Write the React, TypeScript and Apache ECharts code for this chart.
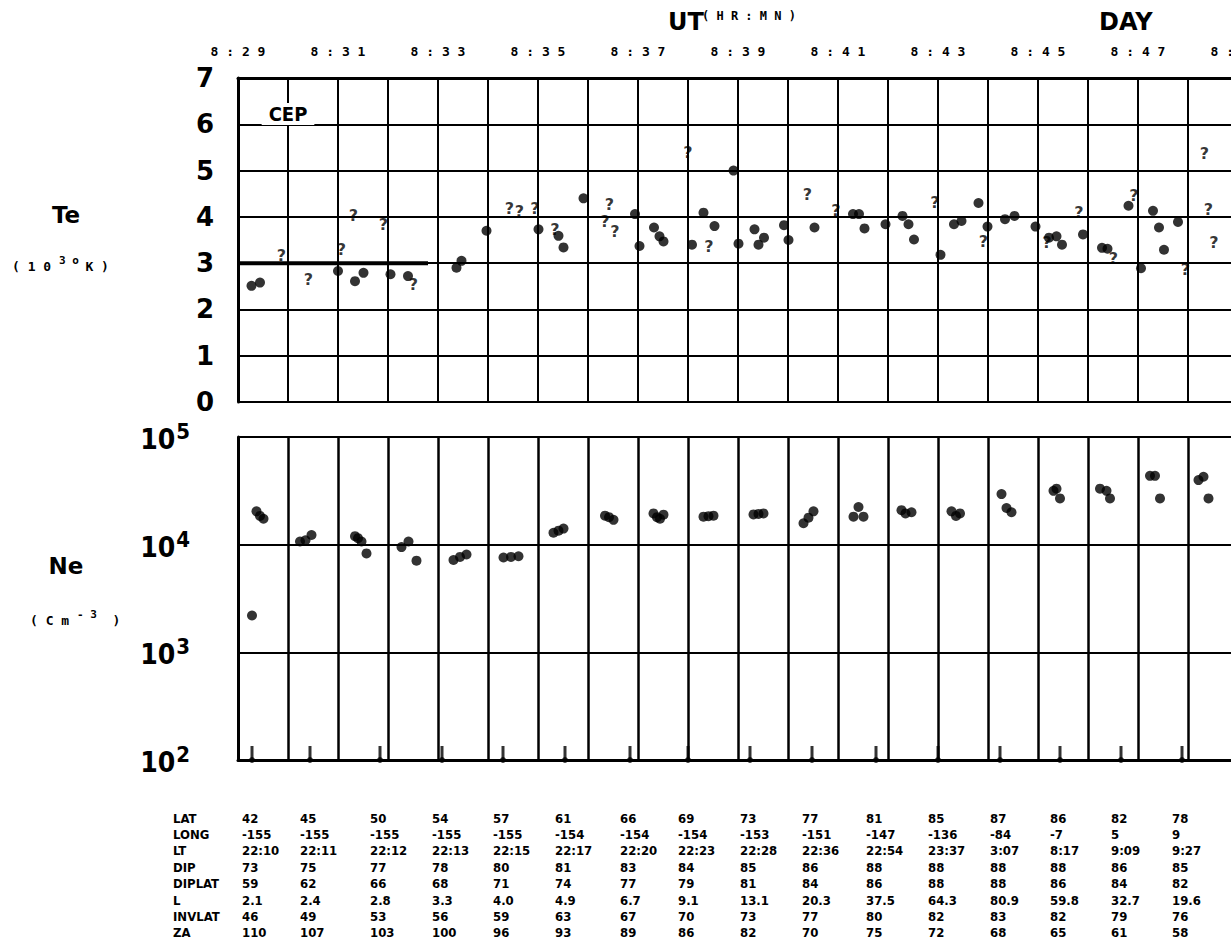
import React, { useEffect, useRef } from "react";
import * as echarts from "echarts";

// ---------- data ----------
// UT minutes after 8:00
const xMinMinute = 29;
const xMaxMinute = 49;

// Te (10^3 K) measured points
const teDotMinutes = [29.27, 29.44, 31.0, 31.34, 31.51, 32.05, 32.4, 33.37, 33.47, 33.97, 35.01, 35.41, 35.51, 35.91, 36.94, 37.03, 37.32, 37.43, 37.51, 38.08, 38.31, 38.53, 38.91, 39.01, 39.33, 39.41, 39.52, 39.92, 40.01, 40.53, 41.3, 41.42, 41.53, 41.95, 42.29, 42.41, 42.52, 43.05, 43.32, 43.47, 43.81, 43.99, 44.34, 44.53, 44.95, 45.22, 45.37, 45.48, 45.9, 46.28, 46.39, 46.81, 47.06, 47.3, 47.42, 47.52, 47.8];
const teDotValues = [2.51, 2.58, 2.83, 2.61, 2.79, 2.76, 2.72, 2.9, 3.05, 3.7, 3.73, 3.59, 3.34, 4.4, 4.06, 3.37, 3.77, 3.58, 3.47, 3.4, 4.09, 3.8, 5.0, 3.42, 3.73, 3.4, 3.55, 3.82, 3.5, 3.77, 4.06, 4.06, 3.75, 3.84, 4.02, 3.84, 3.51, 3.18, 3.84, 3.91, 4.3, 3.79, 3.95, 4.02, 3.79, 3.55, 3.58, 3.4, 3.62, 3.33, 3.31, 4.24, 2.89, 4.13, 3.77, 3.29, 3.89];

// Te questionable points ("?")
const teQueryMinutes = [29.87, 30.41, 31.07, 31.31, 31.91, 32.51, 34.43, 34.63, 34.94, 35.34, 36.34, 36.43, 36.54, 38.0, 38.42, 40.39, 40.96, 42.94, 43.91, 45.18, 45.82, 46.51, 46.92, 47.95, 48.33, 48.41, 48.52];
const teQueryValues = [3.16, 2.65, 3.3, 4.02, 3.84, 2.54, 4.17, 4.12, 4.17, 3.73, 3.9, 4.27, 3.68, 5.4, 3.37, 4.49, 4.13, 4.31, 3.47, 3.44, 4.09, 3.11, 4.46, 2.86, 5.36, 4.16, 3.44];

// heavy reference segment on the Te = 3 line
const teRefSegmentMinutes = [29, 32.8];
const teRefSegmentValue = 3;

// Ne (cm^-3)
const neMinutes = [29.28, 29.37, 29.44, 29.51, 30.24, 30.35, 30.47, 31.34, 31.4, 31.47, 31.57, 32.27, 32.41, 32.57, 33.31, 33.44, 33.57, 34.31, 34.46, 34.61, 35.31, 35.41, 35.51, 36.34, 36.42, 36.51, 37.31, 37.38, 37.44, 37.51, 38.31, 38.41, 38.51, 39.31, 39.41, 39.51, 40.31, 40.41, 40.51, 41.31, 41.41, 41.51, 42.27, 42.35, 42.47, 43.27, 43.36, 43.44, 44.27, 44.37, 44.47, 45.31, 45.37, 45.44, 46.24, 46.37, 46.44, 47.24, 47.34, 47.44, 48.21, 48.31, 48.41];
const neValues = [2200, 20400, 18500, 17400, 10700, 11000, 12300, 12000, 11500, 10700, 8300, 9500, 10700, 7100, 7200, 7700, 8100, 7600, 7700, 7800, 12900, 13500, 14100, 18600, 18000, 17000, 19500, 18000, 17400, 19000, 18200, 18400, 18600, 19100, 19300, 19500, 15800, 17800, 20400, 18200, 22400, 18200, 20900, 19500, 20000, 20400, 18500, 19500, 29500, 21900, 20000, 31600, 33100, 26900, 33100, 31600, 26900, 43600, 43600, 26900, 39800, 42700, 26900];

// Ephemeris table (one column per marked UT)
const tableMinutes = [29.28, 30.44, 31.84, 33.08, 34.3, 35.54, 36.84, 38.0, 39.24, 40.48, 41.76, 43.0, 44.24, 45.44, 46.66, 47.88];
const tableRowLabels = ["LAT", "LONG", "LT", "DIP", "DIPLAT", "L", "INVLAT", "ZA"];
const latRow = ["42", "45", "50", "54", "57", "61", "66", "69", "73", "77", "81", "85", "87", "86", "82", "78"];
const longRow = ["-155", "-155", "-155", "-155", "-155", "-154", "-154", "-154", "-153", "-151", "-147", "-136", "-84", "-7", "5", "9"];
const ltRow = ["22:10", "22:11", "22:12", "22:13", "22:15", "22:17", "22:20", "22:23", "22:28", "22:36", "22:54", "23:37", "3:07", "8:17", "9:09", "9:27"];
const dipRow = ["73", "75", "77", "78", "80", "81", "83", "84", "85", "86", "88", "88", "88", "88", "86", "85"];
const diplatRow = ["59", "62", "66", "68", "71", "74", "77", "79", "81", "84", "86", "88", "88", "86", "84", "82"];
const lRow = ["2.1", "2.4", "2.8", "3.3", "4.0", "4.9", "6.7", "9.1", "13.1", "20.3", "37.5", "64.3", "80.9", "59.8", "32.7", "19.6"];
const invlatRow = ["46", "49", "53", "56", "59", "63", "67", "70", "73", "77", "80", "82", "83", "82", "79", "76"];
const zaRow = ["110", "107", "103", "100", "96", "93", "89", "86", "82", "70", "75", "72", "68", "65", "61", "58"];
const tableRows = [latRow, longRow, ltRow, dipRow, diplatRow, lRow, invlatRow, zaRow];

// ---------- styles ----------
const BOLD = "'DejaVu Sans', 'Liberation Sans', sans-serif";
const COND = "'DejaVu Sans Condensed', 'Liberation Sans Narrow', 'DejaVu Sans', sans-serif";
const MONO = "'DejaVu Sans Mono', 'Liberation Mono', monospace";
const INK = "#000";

const TABLE_TOP = 818;
const ROW_H = 16.4;

export default function App() {
  const ref = useRef<HTMLDivElement>(null);

  useEffect(() => {
    if (!ref.current) return;
    const chart = echarts.init(ref.current, null, { renderer: "svg" });

    const option: any = {
      animation: false,
      backgroundColor: "#fff",
      grid: [
        { left: 238, right: -7, top: 78, height: 324, outerBoundsMode: "none", containLabel: false },
        { left: 238, right: -7, top: 437, height: 323, outerBoundsMode: "none", containLabel: false },
      ],
      xAxis: [
        {
          gridIndex: 0,
          type: "value",
          min: xMinMinute,
          max: xMaxMinute,
          interval: 1,
          position: "top",
          axisLine: { show: true, onZero: false, lineStyle: { color: INK, width: 3 } },
          axisTick: { show: false },
          axisLabel: {
            show: true,
            showMinLabel: true,
            showMaxLabel: true,
            hideOverlap: false,
            margin: 20,
            fontFamily: MONO,
            fontWeight: "bold",
            fontSize: 13,
            color: INK,
            formatter: (v: number) =>
              Math.round(v) % 2 === 1 ? "8 : " + String(Math.round(v)).split("").join(" ") : "",
          },
          splitLine: { show: true, lineStyle: { color: INK, width: 2 } },
        },
        {
          gridIndex: 1,
          type: "value",
          min: xMinMinute,
          max: xMaxMinute,
          interval: 1,
          position: "bottom",
          axisLine: { show: true, onZero: false, lineStyle: { color: INK, width: 3 } },
          axisTick: { show: false },
          axisLabel: { show: false },
          splitLine: { show: true, lineStyle: { color: INK, width: 2.5 } },
        },
      ],
      yAxis: [
        {
          gridIndex: 0,
          type: "value",
          min: 0,
          max: 7,
          interval: 1,
          axisLine: { show: true, onZero: false, lineStyle: { color: INK, width: 3 } },
          axisTick: { show: false },
          axisLabel: {
            margin: 24,
            fontFamily: BOLD,
            fontWeight: "bold",
            fontSize: 26,
            color: INK,
          },
          splitLine: { show: true, lineStyle: { color: INK, width: 2 } },
        },
        {
          gridIndex: 1,
          type: "log",
          logBase: 10,
          min: 100,
          max: 100000,
          axisLine: { show: true, onZero: false, lineStyle: { color: INK, width: 3 } },
          axisTick: { show: false },
          axisLabel: {
            margin: 48,
            color: INK,
            formatter: (v: number) => `{b|10}{s|${Math.round(Math.log10(v))}}`,
            rich: {
              b: { fontFamily: COND, fontWeight: "bold", fontSize: 28, color: INK, verticalAlign: "bottom" },
              s: {
                fontFamily: COND,
                fontWeight: "bold",
                fontSize: 22,
                color: INK,
                verticalAlign: "bottom",
                padding: [0, 0, 11, 1],
              },
            },
          },
          splitLine: { show: true, lineStyle: { color: INK, width: 2 } },
        },
      ],
      series: [
        {
          name: "Te ref",
          type: "line",
          xAxisIndex: 0,
          yAxisIndex: 0,
          data: teRefSegmentMinutes.map((m) => [m, teRefSegmentValue]),
          symbol: "none",
          lineStyle: { color: INK, width: 4 },
          silent: true,
          z: 3,
        },
        {
          name: "Te",
          type: "scatter",
          xAxisIndex: 0,
          yAxisIndex: 0,
          data: teDotMinutes.map((m, i) => [m, teDotValues[i]]),
          symbol: "circle",
          symbolSize: 10,
          itemStyle: { color: INK },
          z: 4,
        },
        {
          name: "Te ?",
          type: "scatter",
          xAxisIndex: 0,
          yAxisIndex: 0,
          data: teQueryMinutes.map((m, i) => [m, teQueryValues[i]]),
          symbol: "circle",
          symbolSize: 1,
          itemStyle: { color: "rgba(0,0,0,0)" },
          label: {
            show: true,
            position: "inside",
            formatter: "?",
            fontFamily: BOLD,
            fontWeight: "bold",
            fontSize: 16,
            color: INK,
          },
          z: 4,
        },
        {
          name: "Ne",
          type: "scatter",
          xAxisIndex: 1,
          yAxisIndex: 1,
          data: neMinutes.map((m, i) => [m, neValues[i]]),
          symbol: "circle",
          symbolSize: 10,
          itemStyle: { color: INK },
          z: 4,
        },
        {
          name: "marks",
          type: "scatter",
          xAxisIndex: 1,
          yAxisIndex: 1,
          data: tableMinutes.map((m) => [m, 100]),
          symbol: "rect",
          symbolSize: [3, 14],
          symbolOffset: [0, -7],
          itemStyle: { color: INK },
          clip: false,
          silent: true,
          z: 5,
        },
        {
          name: "mark dots",
          type: "scatter",
          xAxisIndex: 1,
          yAxisIndex: 1,
          data: tableMinutes.map((m) => [m, 100]),
          symbol: "circle",
          symbolSize: 6,
          itemStyle: { color: INK },
          clip: false,
          silent: true,
          z: 5,
        },
      ],
    };

    chart.setOption(option);

    const graphics: any[] = [
      {
        type: "text",
        x: 668,
        y: 22,
        style: { text: "UT", font: `bold 24px ${BOLD}`, fill: INK, textAlign: "left", textVerticalAlign: "middle" },
      },
      {
        type: "text",
        x: 702,
        y: 16,
        style: { text: "( H R : M N )", font: `bold 12px ${MONO}`, fill: INK, textAlign: "left", textVerticalAlign: "middle" },
      },
      {
        type: "text",
        x: 1099,
        y: 22,
        style: { text: "DAY", font: `bold 24px ${BOLD}`, fill: INK, textAlign: "left", textVerticalAlign: "middle" },
      },
      {
        type: "text",
        x: 288,
        y: 114,
        z: 10,
        style: {
          text: "CEP",
          font: `bold 20px ${COND}`,
          fill: INK,
          backgroundColor: "#fff",
          padding: [1, 7, 1, 7],
          textAlign: "center",
          textVerticalAlign: "middle",
        },
      },
      {
        type: "text",
        x: 66,
        y: 215,
        style: { text: "Te", font: `bold 23px ${BOLD}`, fill: INK, textAlign: "center", textVerticalAlign: "middle" },
      },
      {
        type: "text",
        x: 12,
        y: 264,
        style: {
          text: "{n|( 1 0 }{s|3 o }{n|K )}",
          textAlign: "left",
          textVerticalAlign: "middle",
          rich: {
            n: { fontFamily: MONO, fontWeight: "bold", fontSize: 13, fill: INK, verticalAlign: "bottom" },
            s: { fontFamily: MONO, fontWeight: "bold", fontSize: 11, fill: INK, verticalAlign: "bottom", padding: [0, 0, 7, 0] },
          },
        },
      },
      {
        type: "text",
        x: 66,
        y: 566,
        style: { text: "Ne", font: `bold 23px ${BOLD}`, fill: INK, textAlign: "center", textVerticalAlign: "middle" },
      },
      {
        type: "text",
        x: 30,
        y: 618,
        style: {
          text: "{n|( C m }{s|- 3}{n|  )}",
          textAlign: "left",
          textVerticalAlign: "middle",
          rich: {
            n: { fontFamily: MONO, fontWeight: "bold", fontSize: 13, fill: INK, verticalAlign: "bottom" },
            s: { fontFamily: MONO, fontWeight: "bold", fontSize: 11, fill: INK, verticalAlign: "bottom", padding: [0, 0, 7, 0] },
          },
        },
      },
    ];

    tableRowLabels.forEach((lab, ri) => {
      graphics.push({
        type: "text",
        x: 173,
        y: TABLE_TOP + ri * ROW_H,
        style: { text: lab, font: `bold 13px ${COND}`, fill: INK, textAlign: "left", textVerticalAlign: "middle" },
      });
    });

    tableMinutes.forEach((m, ci) => {
      const px = chart.convertToPixel({ xAxisIndex: 1 }, m) as unknown as number;
      tableRows.forEach((row, ri) => {
        graphics.push({
          type: "text",
          x: px - 10,
          y: TABLE_TOP + ri * ROW_H,
          style: {
            text: row[ci],
            font: `bold 13px ${COND}`,
            fill: INK,
            textAlign: "left",
            textVerticalAlign: "middle",
          },
        });
      });
    });

    chart.setOption({ graphic: { elements: graphics } });

    return () => {
      chart.dispose();
    };
  }, []);

  return (
    <div
      ref={ref}
      style={{ position: "absolute", left: 0, top: 0, width: 1231, height: 944, background: "#fff" }}
    />
  );
}
